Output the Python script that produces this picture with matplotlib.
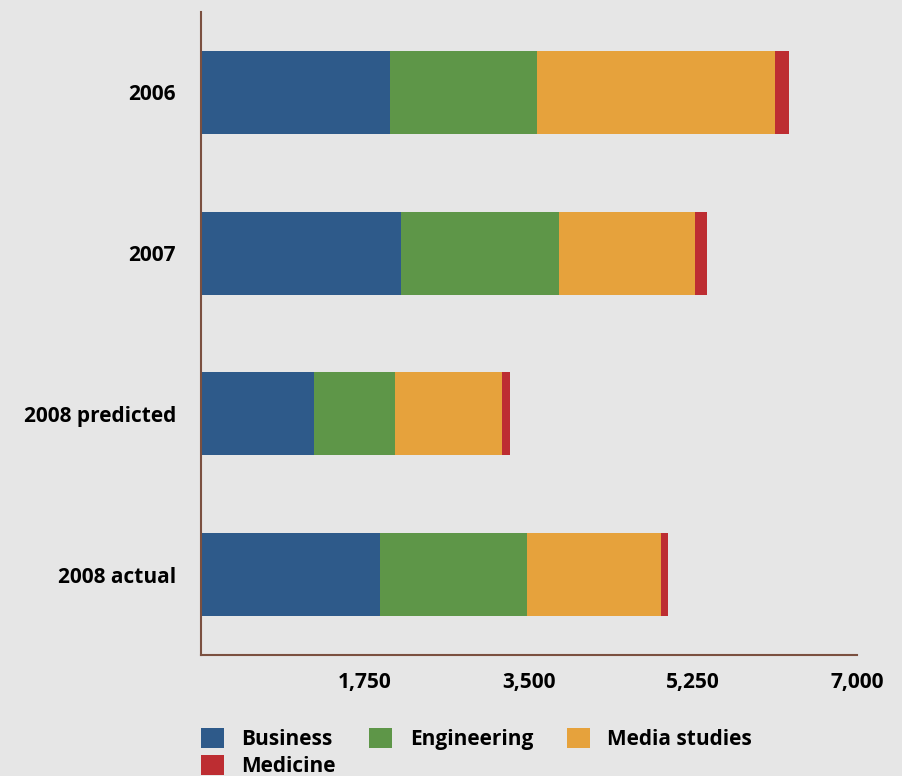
import matplotlib
matplotlib.use('Agg')
import matplotlib.pyplot as plt
import numpy as np

years = ['2006', '2007', '2008 predicted', '2008 actual']
business = [2015, 2135, 1205, 1910]
engineering = [1575, 1690, 865, 1570]
media = [2530, 1450, 1145, 1430]
medicine = [155, 120, 85, 75]

series = [('Business', business, '#2e5a8a'),
          ('Engineering', engineering, '#5e9648'),
          ('Media studies', media, '#e6a23c'),
          ('Medicine', medicine, '#bd2d32')]

plt.rcParams['font.family'] = ['Open Sans', 'DejaVu Sans']
plt.rcParams['font.weight'] = 'bold'

bg = '#e6e6e6'
fig = plt.figure(figsize=(9.03, 7.76), dpi=100, facecolor=bg)
ax = fig.add_axes([201/903, 1 - 655/776, 656/903, 643/776])
ax.set_facecolor(bg)

y = np.arange(len(years))
left = np.zeros(len(years))
bars = {}
for name, vals, col in series:
    bars[name] = ax.barh(y, vals, left=left, height=0.516, color=col, label=name)
    left = left + np.array(vals)

ax.set_ylim(3.5, -0.5)
ax.set_xlim(0, 7000)
ax.set_xticks([1750, 3500, 5250, 7000])
ax.set_xticklabels(['1,750', '3,500', '5,250', '7,000'])
ax.set_yticks(y)
ax.set_yticklabels(years)
ax.tick_params(length=0, labelsize=15)
ax.tick_params(axis='y', pad=18)
ax.tick_params(axis='x', pad=12)
for t in ax.get_xticklabels() + ax.get_yticklabels():
    t.set_fontweight('bold')

for s in ['top', 'right']:
    ax.spines[s].set_visible(False)
for s in ['left', 'bottom']:
    ax.spines[s].set_color('#7b5040')
    ax.spines[s].set_linewidth(1.5)

# row-major order for the 3-column legend
order = ['Business', 'Medicine', 'Engineering', 'Media studies']
fig.legend([bars[n] for n in order], order, loc='upper left',
           bbox_to_anchor=(201/903, 1 - 728/776), ncol=3, frameon=False,
           borderpad=0, borderaxespad=0, handlelength=1.1, handleheight=1.1,
           handletextpad=0.85, columnspacing=1.6, labelspacing=0.25,
           prop={'size': 15, 'weight': 'bold'})

fig.savefig('out.png', dpi=100, facecolor=bg)
